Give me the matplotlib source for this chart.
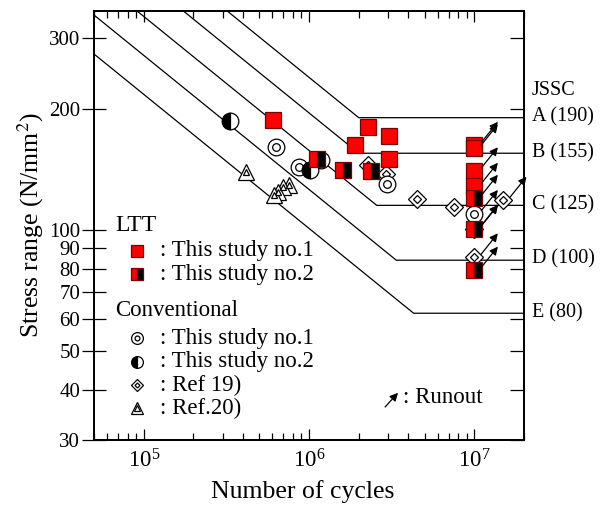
import numpy as np
import matplotlib.pyplot as plt
from matplotlib.ticker import NullLocator
from matplotlib.transforms import offset_copy, blended_transform_factory

plt.rcParams['font.family'] = ['Liberation Serif', 'DejaVu Serif']
plt.rcParams['mathtext.fontset'] = 'stix'

# JSSC design curves: strength at 2e6 cycles and cut-off limit
jssc_names = ['A', 'B', 'C', 'D', 'E']
jssc_s2m = [190, 155, 125, 100, 80]
jssc_cutoff = [190, 155, 115, 84, 62]

# test data (cycles, stress range N/mm2)
ltt1_n = [6.05e5, 2.26e6, 3.03e6, 1.90e6, 3.03e6, 1e7, 1e7, 1e7, 1e7]
ltt1_s = [187.7, 180.6, 170.6, 162.7, 150.2, 162.1, 159.8, 140.1, 128.2]
ltt2_n = [1.12e6, 1.60e6, 2.37e6, 1e7, 1e7, 1e7]
ltt2_s = [150.2, 140.5, 139.9, 119.7, 100.7, 79.3]
conv1_n = [6.34e5, 8.68e5, 1.18e6, 2.96e6, 1e7]
conv1_s = [160.5, 143.2, 148.7, 130.2, 109.7]
conv2_n = [3.32e5, 1.01e6]
conv2_s = [186.9, 141.1]
ref19_n = [2.26e6, 2.92e6, 4.49e6, 7.53e6, 1.49e7, 1e7, 1e7]
ref19_s = [144.5, 137.9, 119.5, 113.7, 118.4, 100.5, 85.6]
ref20_n = [4.14e5, 7.53e5, 6.92e5, 6.46e5, 6.11e5]
ref20_s = [139.1, 128.9, 127.5, 123.9, 122.1]

y_ticks = [30, 40, 50, 60, 70, 80, 90, 100, 200, 300]

fs = 16.5
red_edge = '#7a0000'

fig, ax = plt.subplots(figsize=(6, 5.09), dpi=100)
fig.subplots_adjust(left=94/600, right=524/600, top=1-11/509, bottom=1-440/509)
ax.set_xscale('log')
ax.set_yscale('log')
ax.set_xlim(5e4, 2e7)
ax.set_ylim(30, 350)

# design lines
for s2, sc in zip(jssc_s2m, jssc_cutoff):
    n_knee = 2e6 * (s2 / sc) ** 3
    ax.plot([5e4, n_knee, 2e7], [s2 * (2e6 / 5e4) ** (1 / 3), sc, sc], color='black', lw=0.9, zorder=1)

# markers
def double_marker(n, s, m, big, small, trans=None, **kw):
    extra = {} if trans is None else dict(transform=trans, clip_on=False)
    ax.plot(n, s, ls='none', marker=m, ms=big, mfc='white', mec='black', mew=0.9, **extra, **kw)
    ax.plot(n, s, ls='none', marker=m, ms=small, mfc='white', mec='black', mew=0.9, **extra, **kw)

double_marker(ref20_n, ref20_s, '^', 11, 5, zorder=3)
double_marker(ref19_n, ref19_s, 'D', 9, 3.8, zorder=3)
double_marker(conv1_n, conv1_s, 'o', 12, 5.5, zorder=4)
ax.plot(conv2_n, conv2_s, ls='none', marker='o', ms=12, fillstyle='left', mfc='black',
        mfcalt='white', mec='black', mew=0.9, zorder=4)
ax.plot(ltt1_n, ltt1_s, ls='none', marker='s', ms=11, mfc='red', mec=red_edge, mew=0.9, zorder=5)
ax.plot(ltt2_n, ltt2_s, ls='none', marker='s', ms=11, fillstyle='left', mfc='red',
        mfcalt='black', mec=red_edge, mew=0.9, zorder=6)

# runout arrows
head_tr = offset_copy(ax.transData, fig=fig, x=17, y=17, units='points')
tail_tr = offset_copy(ax.transData, fig=fig, x=5, y=2, units='points')
all_n = ltt1_n + ltt2_n + conv1_n + ref19_n
all_s = ltt1_s + ltt2_s + conv1_s + ref19_s
for n, s in zip(all_n, all_s):
    if n >= 1e7:
        ax.annotate('', xy=(n, s), xycoords=head_tr, xytext=(n, s), textcoords=tail_tr,
                    arrowprops=dict(arrowstyle='-|>', color='black', lw=0.9,
                                    mutation_scale=12, shrinkA=0, shrinkB=0), zorder=7)

# legend drawn by hand
T = ax.transAxes
ax.text(0.049, 0.501, 'LTT', transform=T, fontsize=17, va='center')
ax.plot(0.0993, 0.441, ls='none', marker='s', ms=8, mfc='red', mec=red_edge, mew=0.9,
        transform=T, clip_on=False)
ax.plot(0.0993, 0.386, ls='none', marker='s', ms=8, fillstyle='left', mfc='red',
        mfcalt='black', mec=red_edge, mew=0.9, transform=T, clip_on=False)
ax.text(0.049, 0.301, 'Conventional', transform=T, fontsize=fs, va='center')
double_marker(0.0993, 0.237, 'o', 8.5, 3.5, trans=T)
ax.plot(0.0993, 0.1825, ls='none', marker='o', ms=8.5, fillstyle='left', mfc='black',
        mfcalt='white', mec='black', mew=0.9, transform=T, clip_on=False)
double_marker(0.0993, 0.128, 'D', 6.5, 2.5, trans=T)
double_marker(0.0993, 0.0739, '^', 8.5, 4, trans=T)
leg_labels = [': This study no.1', ': This study no.2', ': This study no.1',
              ': This study no.2', ': Ref 19)', ': Ref.20)']
leg_y = [0.441, 0.386, 0.237, 0.1825, 0.128, 0.0739]
for lab, y in zip(leg_labels, leg_y):
    ax.text(0.1535, y, lab, transform=T, fontsize=fs, va='center')

ax.annotate('', xy=(0.707, 0.11), xycoords=T, xytext=(0.677, 0.077), textcoords=T,
            arrowprops=dict(arrowstyle='-|>', color='black', lw=0.9, mutation_scale=12,
                            shrinkA=0, shrinkB=0))
ax.text(0.718, 0.098, ': Runout', transform=T, fontsize=fs, va='center')

# JSSC labels at the right
bt = blended_transform_factory(ax.transAxes, ax.transData)
ax.text(1.018, 0.814, 'JSSC', transform=T, fontsize=14.5, va='center')
for name, s2, sc in zip(jssc_names, jssc_s2m, jssc_cutoff):
    ax.text(1.018, sc * 1.005, f'{name} ({s2})', transform=bt, fontsize=14.5, va='center')

# ticks
ax.set_yticks(y_ticks)
ax.set_yticklabels([str(v) for v in y_ticks])
ax.yaxis.set_minor_locator(NullLocator())
ax.tick_params(axis='y', which='major', direction='inout', length=17, width=0.9,
               labelsize=15, left=True, right=False, pad=1.5)
ax.tick_params(axis='x', which='major', direction='in', length=8, width=0.9,
               labelsize=16.5, top=True, pad=7)
ax.tick_params(axis='x', which='minor', direction='in', length=5, width=0.9, top=True)

ax2 = ax.twinx()
ax2.set_yscale('log')
ax2.set_ylim(30, 350)
ax2.set_yticks(y_ticks)
ax2.set_yticklabels([])
ax2.yaxis.set_minor_locator(NullLocator())
ax2.tick_params(axis='y', which='major', direction='in', length=10, width=0.9)

for a in (ax, ax2):
    for sp in a.spines.values():
        sp.set_linewidth(1.3)

ax.set_xlabel('Number of cycles', fontsize=18.5)
ax.xaxis.set_label_coords(0.486, -0.093)
ax.set_ylabel('Stress range (N/mm$^2$)', fontsize=18.5)
ax.yaxis.set_label_coords(-0.112, 0.5)

fig.savefig('out.png', dpi=100)
